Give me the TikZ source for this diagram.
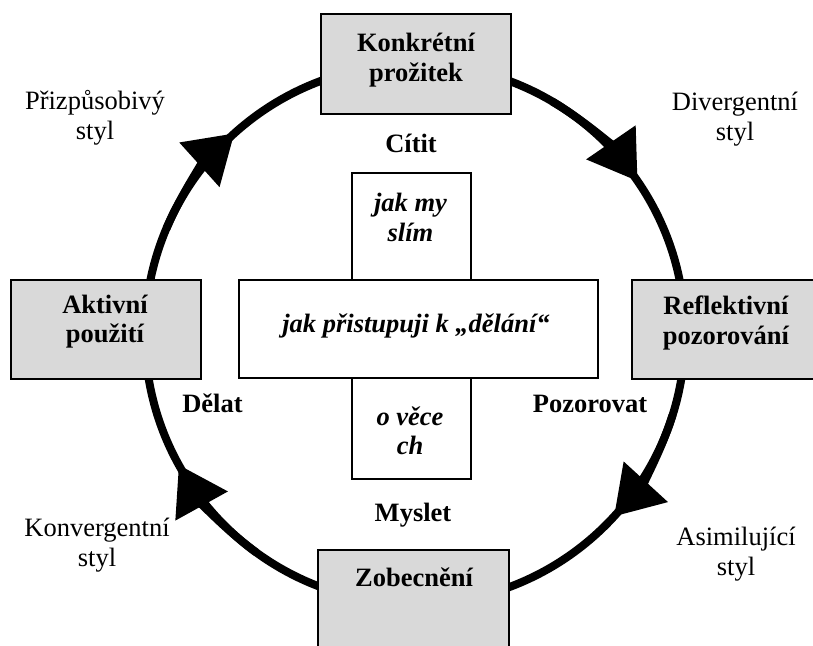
\documentclass[tikz,border=0pt]{standalone}
\usepackage{fontspec}
\setmainfont{Liberation Serif}
\usetikzlibrary{arrows.meta}
\definecolor{boxgray}{RGB}{217,217,217}

\begin{document}
\begin{tikzpicture}[x=0.5pt,y=-0.5pt,
    stage/.style={draw=black,line width=1pt,fill=boxgray},
    crossbox/.style={draw=black,line width=1pt,fill=white},
    txt/.style={align=center,inner sep=0pt,font=\fontsize{13.25}{14.75}\selectfont},
    stagetxt/.style={txt,font=\fontsize{13.25}{14.75}\selectfont\bfseries},
    crosstxt/.style={txt,font=\fontsize{13.25}{14.75}\selectfont\bfseries\itshape},
    cycle/.style={line width=4pt},
    cyctip/.style={cycle,-{Triangle[width=29pt,length=23.5pt]}}]

\useasboundingbox (0,0) rectangle (813,645);
\clip (0,0) rectangle (813,645);

\coordinate (M) at (415,334);

% the cycle
\draw[cycle] (M) circle[radius=270];
\foreach \a in {228,325.5,42.5,151}
{
    \draw[cyctip] (M) ++(\a-25:270) arc[start angle=\a-25,end angle=\a,radius=270];
}

% stages
\coordinate (K) at (416,64);
\coordinate (R) at (731,329.5);
\coordinate (Z) at (413.5,605);
\coordinate (A) at (106,329.5);

\draw[stage] (K) +(-95,-50) rectangle ++(95,50);
\draw[stage] (R) +(-99,-49.5) rectangle ++(99,49.5);
\draw[stage] (Z) +(-95.5,-55) rectangle ++(95.5,55);
\draw[stage] (A) +(-95,-49.5) rectangle ++(95,49.5);

% the cross in the middle
\draw[crossbox] (352,173) rectangle (471,280);
\draw[crossbox] (352,378) rectangle (471,479);
\draw[crossbox] (239,280) rectangle (598,378);

\node[stagetxt] (konkretni) at (416,60) {Konkrétní\\prožitek};
\node[stagetxt] (reflektivni) at (726,323) {Reflektivní\\pozorování};
\node[stagetxt] (zobecneni) at (414,577) {Zobecnění};
\node[stagetxt] (aktivni) at (105,321.5) {Aktivní\\použití};

\node[stagetxt] (citit) at (411,143) {Cítit};
\node[stagetxt] (pozorovat) at (590,403.5) {Pozorovat};
\node[stagetxt] (myslet) at (413,515) {Myslet};
\node[stagetxt] (delat) at (212.5,403.5) {Dělat};

\node[crosstxt] (myslim) at (410.5,217.5) {jak my\\slím};
\node[crosstxt] (delani) at (416,326) {jak přistupuji k „dělání“};
\node[crosstxt] (vecech) at (410,431) {o věce\\ch};

\node[txt] (prizpusobivy) at (95,118) {Přizpůsobivý\\styl};
\node[txt] (divergentni) at (735,119) {Divergentní\\styl};
\node[txt] (asimilujici) at (736,554) {Asimilující\\styl};
\node[txt] (konvergentni) at (97,545) {Konvergentní\\styl};

\end{tikzpicture}
\end{document}
